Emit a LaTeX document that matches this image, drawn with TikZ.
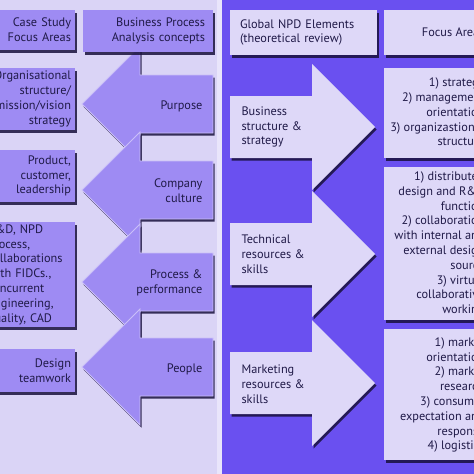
\documentclass[tikz,border=0pt]{standalone}
\usepackage{fontspec}
\setmainfont{PT Sans}
\usetikzlibrary{shadows}

\definecolor{panelL}{RGB}{218,212,246}
\definecolor{stripL}{RGB}{233,229,251}
\definecolor{boxL}{RGB}{158,139,243}
\definecolor{panelR}{RGB}{106,80,240}
\definecolor{boxR}{RGB}{222,216,248}
\definecolor{ink}{RGB}{32,26,72}
\definecolor{shade}{RGB}{24,16,60}

\tikzset{
  txt/.style={font=\fontsize{12.3}{14.8}\selectfont, text=ink},
  sh/.style={drop shadow={shadow xshift=1.5pt, shadow yshift=-2.5pt, fill=shade, opacity=.85}},
  lbox/.style={txt, sh, fill=boxL, inner xsep=4pt, inner ysep=0pt},
  rbox/.style={txt, sh, fill=boxR, inner xsep=10pt, inner ysep=0pt},
  fbox/.style={sh, fill=boxR, minimum width=116pt, inner sep=0pt},
  larrow/.style={sh, fill=boxL, draw=boxL!55!white, line width=0.8pt},
  rarrow/.style={sh, fill=boxR},
}

\begin{document}
\begin{tikzpicture}[x=1pt, y=-1pt]

    \useasboundingbox (0,0) rectangle (474,474);
    \clip (0,0) rectangle (474,474);

    % panels
    \fill[panelL] (0,0) rectangle (218,474);
    \fill[stripL] (217,0) rectangle (222,474);
    \fill[panelR] (222,0) rectangle (474,474);

    % left arrows
    \path[larrow] (82,104) -- (140,46) -- (140,75) -- (213,75) -- (213,133) -- (140,133) -- (140,162) -- cycle;
    \path[larrow] (82,190) -- (140,132) -- (140,161) -- (213,161) -- (213,219) -- (140,219) -- (140,248) -- cycle;
    \path[larrow] (82,282) -- (140,224) -- (140,253) -- (213,253) -- (213,311) -- (140,311) -- (140,340) -- cycle;
    \path[larrow] (82,367) -- (140,309) -- (140,338) -- (213,338) -- (213,396) -- (140,396) -- (140,425) -- cycle;

    \node[txt, anchor=east, align=right] (purpose) at (206,106) {Purpose};
    \node[txt, anchor=east, align=right] (culture) at (206,191) {Company\\culture};
    \node[txt, anchor=east, align=right] (process) at (206,283) {Process \&\\performance};
    \node[txt, anchor=east, align=right] (people) at (206,369) {People};

    % left boxes
    \node[lbox, text width=87pt, align=right, minimum height=40pt] (case) at (27.5,30) {Case Study\\Focus Areas};
    \node[lbox, inner xsep=8pt, text width=114pt, align=right, minimum height=42pt] (bpa) at (148,31) {Business Process\\Analysis concepts};
    \node[lbox, text width=87pt, align=right, minimum height=62pt] (org) at (27.5,99) {Organisational\\structure/\\mission/vision\\strategy};
    \node[lbox, text width=87pt, align=right, minimum height=52pt] (prod) at (27.5,176) {Product,\\customer,\\leadership};
    \node[lbox, text width=83pt, align=left, minimum height=105pt] (rnd) at (29.5,274.5) {R\&D, NPD\\process,\\collaborations\\with FIDCs.,\\concurrent\\engineering,\\quality, CAD};
    \node[lbox, text width=87pt, align=right, minimum height=43pt] (team) at (27.5,370.5) {Design\\teamwork};

    % right arrows
    \path[rarrow] (230,96) -- (312,96) -- (312,64) -- (375,127) -- (312,190) -- (312,158) -- (230,158) -- cycle;
    \path[rarrow] (230,223) -- (312,223) -- (312,191) -- (375,254) -- (312,317) -- (312,285) -- (230,285) -- cycle;
    \path[rarrow] (230,352) -- (312,352) -- (312,320) -- (375,383) -- (312,446) -- (312,414) -- (230,414) -- cycle;

    \node[txt, anchor=west, align=left] (bss) at (238,127) {Business\\structure \&\\strategy};
    \node[txt, anchor=west, align=left] (trs) at (238,254) {Technical\\resources \&\\skills};
    \node[txt, anchor=west, align=left] (mrs) at (238,384) {Marketing\\resources \&\\skills};

    % right boxes
    \node[rbox, text width=127pt, align=left, minimum height=45pt] (npd) at (303.5,32.5) {Global NPD Elements\\(theoretical review)};
    \node[fbox, minimum height=45pt] (focus) at (442,32.5) {};
    \node[fbox, minimum height=90pt] (fa1) at (442,113) {};
    \node[fbox, minimum height=153pt] (fa2) at (442,243.5) {};
    \node[fbox, minimum height=131pt] (fa3) at (442,394.5) {};

    \node[txt, anchor=east, align=right] (focustxt) at (488,32.5) {Focus Areas};
    \node[txt, anchor=east, align=right] (fa1txt) at (488,112) {1) strategy\\2) management\\orientation\\3) organizastional\\structure};
    \node[txt, anchor=east, align=right] (fa2txt) at (488,244) {1) distributed\\design and R\&D\\function\\2) collaboration\\with internal and\\external design\\source\\3) virtual\\collaborative\\working};
    \node[txt, anchor=east, align=right] (fa3txt) at (488,395) {1) market\\orientation\\2) market\\research\\3) consumer\\expectation and\\response\\4) logistics};

\end{tikzpicture}
\end{document}
